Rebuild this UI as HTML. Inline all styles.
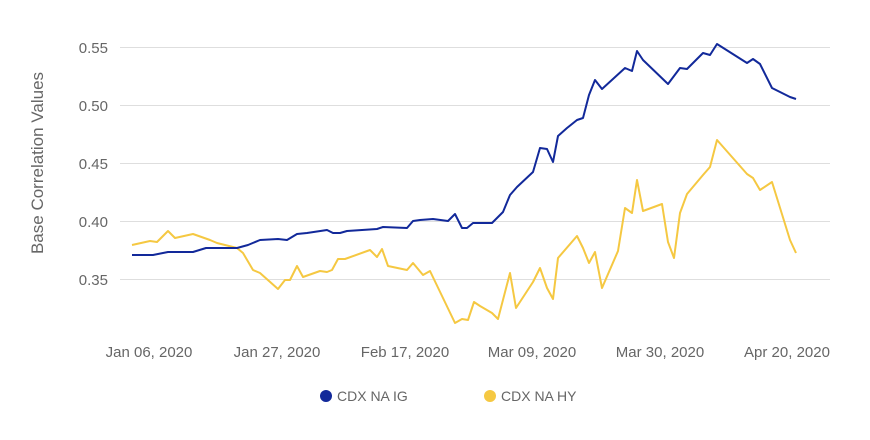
<!DOCTYPE html>
<html><head><meta charset="utf-8"><style>body{margin:0;background:#fff}svg{display:block}text{font-family:"Liberation Sans",sans-serif;fill:#666}</style></head><body>
<svg width="870" height="440" xmlns="http://www.w3.org/2000/svg">
<g stroke="#dedede" stroke-width="1">
<line x1="120" x2="830" y1="47.5" y2="47.5"/><line x1="120" x2="830" y1="105.5" y2="105.5"/><line x1="120" x2="830" y1="163.5" y2="163.5"/><line x1="120" x2="830" y1="221.5" y2="221.5"/><line x1="120" x2="830" y1="279.5" y2="279.5"/>
</g>
<g font-size="15" text-anchor="end">
<text x="108" y="53">0.55</text><text x="108" y="111">0.50</text><text x="108" y="169">0.45</text><text x="108" y="227">0.40</text><text x="108" y="285">0.35</text>
</g>
<text transform="translate(43,163) rotate(-90)" font-size="17" text-anchor="middle">Base Correlation Values</text>
<g font-size="15" text-anchor="middle">
<text x="149" y="357">Jan 06, 2020</text><text x="277" y="357">Jan 27, 2020</text><text x="405" y="357">Feb 17, 2020</text><text x="532" y="357">Mar 09, 2020</text><text x="660" y="357">Mar 30, 2020</text><text x="787" y="357">Apr 20, 2020</text>
</g>
<polyline fill="none" stroke="#f5c842" stroke-width="2" stroke-linejoin="round" points="132,245 150,241 157,242 168,231 175,238 193,234 210,240 217,243 237,248 243,253 253,270 260,273 278,289 285,280 290,280 297,266 303,277 320,271 327,272 332,270 338,259 345,259 370,250 377,257 382,249 388,266 407,270 413,263 423,275 430,271 455,323 462,319 468,320 474,302 480,306 492,313 498,319 510,273 516,308 533,282 540,268 547,288 553,299 558,258 577,236 583,248 589,263 595,252 602,288 618,251 625,208 632,213 637,180 643,211 662,204 668,242 674,258 680,213 687,194 703,175 710,167 717,140 747,174 753,178 760,190 772,182 790,240 796,253"/>
<polyline fill="none" stroke="#12299a" stroke-width="2" stroke-linejoin="round" points="132,255 153,255 168,252 193,252 206,248 237,248 248,245 260,240 278,239 287,240 297,234 307,233 327,230 333,233 340,233 347,231 377,229 383,227 407,228 413,221 420,220 433,219 448,221 455,214 462,228 467,228 473,223 492,223 503,212 510,195 517,187 533,172 540,148 547,149 553,162 558,136 567,128 577,120 583,118 589,95 595,80 602,89 625,68 632,71 637,51 643,60 668,84 680,68 687,69 703,53 710,55 717,44 747,63 753,59 760,64 772,88 790,97 796,99"/>
<circle cx="326" cy="396" r="6" fill="#12299a"/><text x="337" y="401" font-size="14">CDX NA IG</text>
<circle cx="490" cy="396" r="6" fill="#f5c842"/><text x="501" y="401" font-size="14">CDX NA HY</text>
</svg>
</body></html>
